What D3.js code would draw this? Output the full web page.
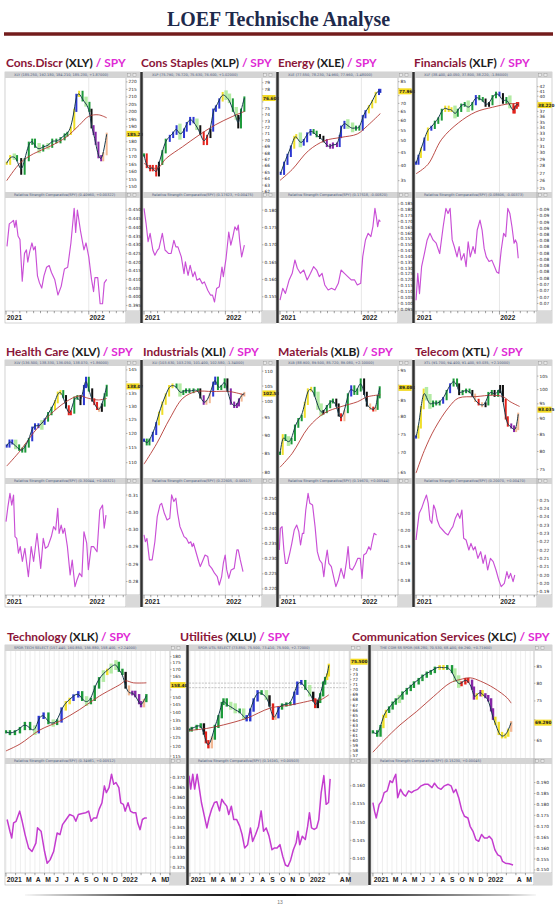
<!DOCTYPE html>
<html><head><meta charset="utf-8">
<script src="https://cdn.jsdelivr.net/npm/d3@7"></script>
<style>body{margin:0;background:#fff}svg{display:block}</style>
</head><body>
<svg id="c" width="560" height="905"></svg>
<script>
// ---------- DATA (t = months since Jan 2021, v = value, c = trend state) ----------
const names = ["Cons.Discr","Cons Staples","Energy","Financials","Health Care","Industrials","Materials","Telecom","Technology","Utilities","Communication Services"];
const tickers = ["XLY","XLP","XLE","XLF","XLV","XLI","XLB","XTL","XLK","XLU","XLC"];
const lastLabels = ["185.23","76.600","77.960","38.220","138.07","102.58","89.080","93.035","158.40","75.500","69.290"];
const priceHeaders = [
 "XLY (185.250, 192.180, 184.210, 185.230, +1.87000)",
 "XLP (75.790, 76.720, 75.630, 76.600, +1.02000)",
 "XLE (77.550, 78.230, 74.960, 77.960, -1.48000)",
 "XLF (38.400, 40.050, 37.800, 38.220, -1.86000)",
 "XLV (136.500, 138.330, 136.050, 138.070, +1.86000)",
 "XLI (103.630, 103.230, 101.400, 102.580, -1.34000)",
 "XLB (88.900, 89.500, 85.720, 89.080, +2.10000)",
 "XTL (91.700, 94.400, 91.400, 93.035, +2.10000)",
 "SPDR TECH SELECT (157.440, 160.850, 156.880, 158.400, +2.24000)",
 "SPDR UTIL SELECT (73.850, 75.500, 73.410, 75.500, +2.72000)",
 "THE COM SS SPDR (68.280, 70.530, 68.400, 69.290, +0.71900)"];
const rsHeaders = ["(0.40960, +0.00322)","(0.17623, +0.00475)","(0.17518, -0.00820)","(0.08606, -0.00373)","(0.30044, +0.00321)","(0.22605, -0.00517)","(0.19670, +0.00544)","(0.20070, +0.00470)","(0.34981, +0.00512)","(0.16191, +0.00503)","(0.15230, +0.00045)"];
const monthLabels = ["2021","","M","A","M","J","J","A","S","O","N","D","2022","","","A","M","J"];

const xlyPrice = [[0.1,165.6,'y'],[0.6,170,'y'],[1.2,170,'l'],[1.6,168,'g'],[2.2,159,'k'],[2.7,168,'g'],[3.3,179,'g'],[3.8,181,'g'],[4.2,177,'g'],[4.8,174.5,'l'],[5.4,177,'g'],[6.1,177,'l'],[6.7,181,'g'],[7.3,180,'g'],[7.9,182,'g'],[8.5,184.5,'g'],[8.9,185.6,'g'],[9.4,189,'y'],[9.9,201,'y'],[10.2,211,'b'],[10.6,213,'y'],[11.1,208,'g'],[11.6,205.6,'l'],[12.1,201,'g'],[12.4,190,'k'],[12.7,185.6,'p'],[13.0,179,'p'],[13.4,170,'p'],[13.8,168,'p'],[14.1,172,'o'],[14.6,185,'o']];
const xlyMA = [[0.1,154],[2.1,166],[4,172],[6.4,177],[8.7,183],[10.6,191],[12,197],[13.4,198],[14.6,196]];
const xlyRS = [[0.14,0.429],[0.47,0.442],[0.8,0.443],[1.08,0.444],[1.27,0.44],[1.46,0.444],[1.74,0.435],[2.02,0.433],[2.35,0.409],[2.68,0.425],[2.96,0.427],[3.15,0.42],[3.44,0.426],[3.76,0.431],[4.0,0.427],[4.24,0.429],[4.56,0.412],[4.85,0.408],[5.18,0.405],[5.5,0.412],[5.88,0.417],[6.26,0.418],[6.59,0.414],[7.06,0.41],[7.53,0.401],[8.0,0.406],[8.47,0.416],[8.94,0.417],[9.41,0.431],[9.88,0.451],[10.1,0.437],[10.35,0.45],[10.8,0.438],[11.3,0.427],[11.6,0.431],[12.0,0.423],[12.4,0.41],[12.7,0.403],[12.9,0.411],[13.3,0.411],[13.65,0.396],[14.0,0.396],[14.25,0.408],[14.6,0.41]];

const xlpPrice = [[0,67.7,'g'],[0.4,65.9,'r'],[0.9,65.4,'r'],[1.3,65.9,'r'],[1.8,64.6,'r'],[2.2,66.4,'k'],[2.7,68.2,'g'],[3.2,70,'g'],[3.8,70.6,'b'],[4.3,71.1,'b'],[4.8,72.1,'b'],[5.3,70.6,'l'],[5.9,71.6,'b'],[6.3,72.6,'b'],[6.8,73.4,'b'],[7.3,72.9,'b'],[7.8,72.1,'l'],[8.3,71.1,'k'],[8.8,69.5,'r'],[9.3,70.6,'r'],[9.8,71.6,'k'],[10.2,74.7,'b'],[10.6,75.2,'b'],[11.1,76.3,'b'],[11.6,77.3,'y'],[12.1,76.8,'l'],[12.6,76.3,'l'],[13.1,74.7,'g'],[13.6,73.7,'l'],[13.9,72.1,'k'],[14.3,74.7,'g'],[14.8,76.6,'g']];
const xlpMA = [[0,66.4],[1.9,65.6],[3.3,67.2],[5.7,69],[8.1,70.8],[10.5,72.4],[13,73.7],[14.8,74.5]];
const xlpRS = [[0,0.1805],[0.3,0.1762],[0.6,0.1709],[0.9,0.1733],[1.3,0.1685],[1.6,0.167],[2.0,0.1685],[2.2,0.1689],[2.7,0.1733],[3.1,0.1685],[3.6,0.1675],[4.0,0.1675],[4.4,0.1713],[4.7,0.1694],[5.0,0.1694],[5.5,0.1665],[5.9,0.1617],[6.1,0.1651],[6.5,0.1612],[6.8,0.1641],[7.2,0.1608],[7.5,0.1622],[7.8,0.1598],[8.2,0.1603],[8.6,0.1588],[8.9,0.1593],[9.4,0.1569],[9.8,0.1555],[10.1,0.1555],[10.4,0.1535],[10.7,0.1574],[11.1,0.1579],[11.5,0.1636],[11.7,0.1608],[12.1,0.1661],[12.5,0.1737],[12.8,0.1699],[13.1,0.1723],[13.4,0.1752],[13.7,0.1742],[13.9,0.1757],[14.1,0.1713],[14.4,0.1665],[14.8,0.1699]];

const xlePrice = [[0.1,37.4,'b'],[0.6,40.9,'b'],[1.1,43.9,'b'],[1.6,47.3,'b'],[2.1,51.6,'y'],[2.4,52.4,'y'],[3.0,48.6,'l'],[3.5,50.1,'b'],[4.0,53.2,'b'],[4.5,54.8,'b'],[4.95,54,'g'],[5.4,52.4,'g'],[5.9,51.6,'k'],[6.4,50.1,'k'],[6.9,48,'p'],[7.4,47.3,'p'],[7.8,48.6,'p'],[8.4,48,'p'],[8.8,52,'b'],[9.0,56.5,'b'],[9.5,59,'b'],[10.0,57.3,'l'],[10.7,55.6,'l'],[11.2,56.5,'g'],[11.7,55.6,'g'],[12.2,62.1,'b'],[12.6,64.9,'b'],[13.1,67.9,'y'],[13.6,71.1,'y'],[14.1,76.5,'y'],[14.6,78.6,'b'],[14.8,77.96,'b']];
const xleMA = [[0,35.1],[1.8,38.7],[4.2,45.8],[6.6,50.1],[9.0,51.6],[11.4,53.2],[12.9,57.3],[14.8,63.9]];
const xleRS = [[0,0.1027],[0.4,0.1127],[0.8,0.1084],[1.35,0.1199],[1.8,0.1256],[2.2,0.137],[2.55,0.1299],[3.0,0.1256],[3.5,0.1284],[4.0,0.1199],[4.5,0.1256],[4.95,0.1313],[5.4,0.1284],[5.8,0.1227],[6.2,0.1256],[6.6,0.1156],[7.1,0.1113],[7.6,0.1127],[8.1,0.1113],[8.6,0.117],[9.0,0.1284],[9.5,0.1256],[10.0,0.1227],[10.5,0.1199],[11.0,0.1199],[11.4,0.1156],[11.9,0.117],[12.2,0.1399],[12.6,0.1541],[13.0,0.1599],[13.4,0.157],[13.7,0.1656],[14.0,0.1813],[14.2,0.1741],[14.4,0.1656],[14.6,0.1713],[14.8,0.1699]];

const xlfPrice = [[0,28.4,'b'],[0.35,29.4,'b'],[0.7,30.5,'y'],[1.2,32.1,'b'],[1.7,33.8,'y'],[2.2,34.1,'b'],[2.7,35.0,'g'],[3.2,35.6,'g'],[3.7,37.2,'g'],[4.2,37.8,'y'],[4.7,37.2,'y'],[5.1,37.5,'y'],[5.6,36.3,'l'],[6.0,37.2,'g'],[6.5,38.2,'g'],[7.0,38.5,'g'],[7.5,37.5,'l'],[8.1,38.5,'g'],[8.6,39.9,'b'],[9.1,39.5,'g'],[9.6,39.2,'g'],[10.0,38.2,'k'],[10.5,38.5,'k'],[11.0,39.9,'g'],[11.5,40.6,'g'],[12.0,40.3,'b'],[12.5,38.8,'k'],[13.0,39.5,'g'],[13.5,38.2,'l'],[14.0,36.9,'r'],[14.2,37.8,'r'],[14.5,38.5,'r'],[14.7,38.22,'r']];
const xlfMA = [[0,26.9],[1.7,28.2],[3.7,32.1],[6.1,34.9],[8.6,36.9],[11.0,37.8],[13.5,38.5],[14.7,38.5]];
const xlfRS = [[0,0.0707],[0.25,0.0764],[0.5,0.0721],[0.8,0.0778],[1.2,0.0806],[1.6,0.0835],[2.0,0.0849],[2.45,0.0835],[2.9,0.0828],[3.4,0.0806],[3.9,0.0863],[4.3,0.0902],[4.6,0.0891],[4.9,0.0902],[5.2,0.0835],[5.5,0.0821],[5.9,0.0799],[6.2,0.0821],[6.5,0.0792],[6.9,0.0806],[7.2,0.0778],[7.5,0.0831],[7.8,0.0799],[8.2,0.0821],[8.5,0.0806],[8.8,0.0856],[9.2,0.0877],[9.5,0.0856],[9.8,0.0817],[10.1,0.0799],[10.5,0.0789],[10.9,0.0792],[11.3,0.0778],[11.6,0.0767],[11.9,0.0764],[12.25,0.0813],[12.6,0.0849],[12.9,0.0842],[13.2,0.0902],[13.5,0.0891],[13.8,0.0863],[14.1,0.0828],[14.3,0.0835],[14.5,0.0828],[14.7,0.0796]];

const xlvPrice = [[0.1,115.6,'b'],[0.5,117.3,'b'],[0.9,116.7,'b'],[1.4,115.6,'l'],[1.9,114.5,'g'],[2.35,113.9,'g'],[2.8,115.6,'g'],[3.3,117.8,'g'],[3.8,121.9,'b'],[4.2,123.1,'b'],[4.7,122.5,'b'],[5.2,123.7,'l'],[5.6,124.9,'b'],[6.1,127.3,'g'],[6.6,129.3,'g'],[7.1,131.9,'y'],[7.5,135.3,'y'],[7.9,135.9,'y'],[8.3,133.9,'g'],[8.7,129.9,'k'],[9.1,127.3,'r'],[9.4,127.9,'r'],[9.9,133.3,'g'],[10.35,133.9,'g'],[10.8,131.2,'k'],[11.3,138.0,'b'],[11.6,141.4,'b'],[12.0,136.6,'g'],[12.5,132.6,'k'],[12.8,131.2,'r'],[13.2,129.3,'r'],[13.5,128.6,'o'],[13.9,130.6,'k'],[14.3,134.6,'g'],[14.6,138.07,'g']];
const xlvMA = [[0.1,108.9],[2.1,114.1],[4,120.3],[6.35,126.8],[8.7,131.9],[10.6,134.2],[12,133.2],[13.4,132.6],[14.6,133.2]];
const xlvRS = [[0,0.3023],[0.27,0.3066],[0.57,0.3105],[0.83,0.3071],[1.09,0.31],[1.3,0.298],[1.55,0.2975],[1.8,0.2932],[2.06,0.2951],[2.37,0.2908],[2.73,0.2946],[3.24,0.2864],[3.65,0.2951],[4.0,0.2908],[4.5,0.2989],[5.03,0.2888],[5.4,0.2975],[5.7,0.2946],[6.06,0.2951],[6.57,0.298],[6.9,0.3009],[7.2,0.2999],[7.5,0.3062],[7.7,0.2989],[8.0,0.3013],[8.26,0.2989],[8.5,0.3004],[8.9,0.2951],[9.3,0.2869],[9.6,0.2912],[10.0,0.2835],[10.3,0.2855],[10.66,0.2874],[11.0,0.2864],[11.3,0.2994],[11.7,0.2961],[11.94,0.2884],[12.36,0.2951],[12.7,0.2951],[13.2,0.2936],[13.6,0.3057],[14.0,0.3071],[14.24,0.3004],[14.5,0.3042]];

const xliPrice = [[0,88.6,'b'],[0.4,87.6,'g'],[0.8,88.6,'g'],[1.3,90.5,'b'],[1.8,93.3,'b'],[2.2,96.4,'y'],[2.7,99.5,'y'],[3.2,102.1,'y'],[3.7,104.8,'y'],[4.2,105.3,'y'],[4.8,104.8,'g'],[5.3,102.6,'l'],[5.8,103.2,'g'],[6.2,103.7,'g'],[6.7,103.2,'g'],[7.3,103.7,'g'],[7.95,103.7,'g'],[8.3,101.5,'k'],[8.8,99.5,'p'],[9.2,100.0,'o'],[9.7,102.1,'o'],[10.2,105.9,'b'],[10.5,107.6,'b'],[10.9,104.2,'g'],[11.4,104.8,'g'],[11.9,107.0,'g'],[12.3,103.7,'k'],[12.8,99.5,'p'],[13.3,98.5,'p'],[13.7,99.0,'p'],[14.0,100.5,'p'],[14.4,102.1,'o'],[14.8,102.58,'o']];
const xliMA = [[0,82.2],[1.85,87.6],[3.8,94.8],[5.75,101.1],[7.7,103.2],[10.1,103.2],[12.6,103.2],[14.8,102.1]];
const xliRS = [[0,0.2379],[0.2,0.2356],[0.43,0.2367],[0.8,0.2296],[1.2,0.2296],[1.6,0.2356],[1.95,0.2439],[2.36,0.2478],[2.6,0.2483],[3.0,0.245],[3.4,0.2428],[3.8,0.2434],[4.07,0.2511],[4.4,0.2489],[4.7,0.25],[4.96,0.245],[5.3,0.2406],[5.6,0.239],[5.9,0.2373],[6.26,0.2367],[6.6,0.2351],[6.9,0.2356],[7.1,0.234],[7.3,0.2351],[7.65,0.2323],[8.07,0.229],[8.3,0.2274],[8.6,0.229],[9.0,0.2312],[9.4,0.2307],[9.6,0.2279],[10.0,0.2268],[10.4,0.2252],[10.8,0.2241],[11.1,0.2213],[11.45,0.2241],[11.7,0.2285],[11.97,0.2312],[12.2,0.2263],[12.5,0.2235],[12.85,0.2263],[13.3,0.2268],[13.7,0.2329],[13.9,0.2329],[14.2,0.2296],[14.6,0.2257]];

const xlbPrice = [[0,69.9,'g'],[0.4,74.6,'y'],[0.8,73.6,'g'],[1.25,72.7,'l'],[1.7,73.6,'g'],[2.2,77.3,'g'],[2.7,79.2,'g'],[3.2,80.2,'g'],[3.65,84.1,'y'],[4.1,88.4,'y'],[4.6,88.9,'y'],[5.1,86.8,'g'],[5.6,83.1,'l'],[6.06,81.2,'l'],[6.4,81.6,'k'],[6.9,83.1,'g'],[7.4,84.6,'g'],[7.8,85.1,'g'],[8.3,83.6,'k'],[8.65,80.6,'k'],[9.0,79.2,'r'],[9.5,81.6,'o'],[10.0,86.8,'g'],[10.5,89.4,'b'],[10.96,87.3,'g'],[11.4,88.4,'g'],[11.9,91.7,'g'],[12.4,87.3,'k'],[12.8,83.6,'k'],[13.3,82.6,'o'],[13.75,82.1,'r'],[14.1,82.6,'o'],[14.4,86.2,'g'],[14.7,89.08,'g']];
const xlbMA = [[0,66.4],[1.8,69.9],[4.2,77.0],[6.6,81.2],[9.0,83.1],[11.4,84.6],[12.9,86.2],[14.8,86.8]];
const xlbRS = [[-0.1,0.189],[0.05,0.1955],[0.3,0.196],[0.57,0.189],[0.8,0.185],[1.07,0.185],[1.43,0.188],[1.74,0.191],[2.1,0.195],[2.46,0.1965],[2.77,0.1945],[3.03,0.1905],[3.3,0.194],[3.5,0.194],[3.8,0.201],[4.14,0.206],[4.4,0.203],[4.8,0.2025],[5.17,0.196],[5.5,0.1885],[5.84,0.186],[6.2,0.185],[6.46,0.181],[6.7,0.1855],[6.96,0.189],[7.2,0.185],[7.57,0.184],[7.9,0.181],[8.24,0.178],[8.6,0.18],[9.0,0.1835],[9.43,0.1805],[9.8,0.1855],[10.04,0.19],[10.3,0.1835],[10.66,0.183],[11.06,0.1845],[11.47,0.1865],[11.83,0.1865],[12.1,0.1805],[12.34,0.1875],[12.7,0.188],[13.1,0.19],[13.36,0.189],[13.6,0.1915],[13.87,0.194],[14.23,0.1935]];

const xtlPrice = [[0,84.3,'b'],[0.35,87.4,'y'],[0.7,93.7,'y'],[1.1,99.8,'y'],[1.5,97.3,'l'],[2.0,94.4,'l'],[2.45,95.6,'g'],[2.9,95.0,'g'],[3.4,95.6,'g'],[3.9,96.8,'b'],[4.4,99.3,'g'],[4.9,101.7,'b'],[5.4,103.5,'g'],[5.9,101.7,'g'],[6.2,98.6,'k'],[6.7,99.3,'g'],[7.2,99.8,'g'],[7.7,99.3,'g'],[8.1,98.0,'k'],[8.5,96.2,'o'],[9.0,95.0,'r'],[9.5,94.4,'o'],[10.0,95.0,'k'],[10.4,98.6,'g'],[10.9,99.3,'g'],[11.3,98.0,'k'],[11.8,99.3,'g'],[12.1,101.1,'k'],[12.5,96.2,'k'],[12.9,90.3,'r'],[13.2,88.0,'r'],[13.7,87.4,'p'],[14.1,86.3,'p'],[14.4,86.9,'o'],[14.7,91.5,'o']];
const xtlMA = [[0,74.0],[1.2,80.3],[2.7,86.9],[4.7,93.8],[6.1,97.0],[8.6,97.5],[11.0,98.0],[12.5,97.5],[13.5,95.8],[14.9,94.1]];
const xtlRS = [[0,0.226],[0.1,0.23],[0.45,0.242],[0.8,0.245],[1.13,0.249],[1.5,0.253],[1.75,0.248],[2.0,0.238],[2.27,0.236],[2.53,0.247],[2.8,0.244],[3.05,0.238],[3.4,0.234],[3.83,0.232],[4.25,0.23],[4.6,0.229],[4.97,0.232],[5.3,0.234],[5.65,0.239],[6.0,0.242],[6.3,0.239],[6.6,0.244],[6.85,0.227],[7.2,0.226],[7.6,0.22],[7.9,0.224],[8.25,0.22],[8.5,0.222],[8.9,0.215],[9.3,0.219],[9.65,0.212],[9.96,0.217],[10.3,0.208],[10.7,0.215],[11.1,0.213],[11.5,0.208],[11.9,0.202],[12.25,0.198],[12.7,0.2],[13.07,0.207],[13.33,0.203],[13.6,0.206],[13.96,0.201],[14.2,0.205]];

const xlkPrice = [[0,128.3,'g'],[0.41,127.3,'g'],[0.93,128.3,'g'],[1.45,130.2,'g'],[1.96,133.2,'g'],[2.5,130.2,'g'],[3.0,128.3,'l'],[3.4,136.9,'b'],[3.9,139.0,'b'],[4.4,133.7,'g'],[4.9,133.2,'l'],[5.3,134.7,'g'],[5.76,142.2,'b'],[6.2,146.3,'y'],[6.6,148.5,'y'],[7.0,150.8,'b'],[7.5,153.0,'b'],[7.9,148.5,'g'],[8.35,146.3,'l'],[8.8,148.5,'g'],[9.2,157.0,'g'],[9.65,163.0,'g'],[10.1,166.9,'l'],[10.5,169.3,'y'],[10.9,172.0,'l'],[11.4,174.7,'l'],[11.7,169.3,'g'],[12.07,166.9,'g'],[12.4,157.0,'k'],[12.75,152.3,'o'],[13.1,153.3,'p'],[13.4,151.0,'p'],[13.8,146.3,'p'],[14.0,144.3,'p'],[14.3,147.7,'o'],[14.55,151.0,'g']];
const xlkMA = [[0,117.7],[1.45,121.4],[3.5,129.3],[5.6,134.7],[7.65,141.9],[9.7,150.8],[11.8,158.7],[12.4,161.4],[13.2,160],[14.55,160]];
const xlkRS = [[0.12,0.3489],[0.41,0.343],[0.6,0.3396],[0.79,0.3472],[1.05,0.348],[1.42,0.3531],[1.68,0.348],[1.98,0.3413],[2.35,0.3345],[2.7,0.3328],[3.1,0.337],[3.27,0.3447],[3.64,0.343],[4.0,0.3328],[4.27,0.3269],[4.57,0.3286],[4.94,0.3328],[5.3,0.3421],[5.6,0.3413],[5.86,0.3463],[6.24,0.3489],[6.6,0.3514],[7.0,0.3506],[7.24,0.348],[7.5,0.3514],[7.9,0.3519],[8.27,0.3523],[8.57,0.3531],[8.83,0.348],[9.1,0.3497],[9.4,0.3497],[9.65,0.354],[9.95,0.3573],[10.2,0.3658],[10.4,0.3624],[10.68,0.3649],[10.94,0.3717],[11.17,0.3666],[11.4,0.3675],[11.7,0.3649],[11.9,0.3573],[12.17,0.3565],[12.35,0.3531],[12.65,0.3573],[12.9,0.3531],[13.16,0.3523],[13.46,0.3523],[13.65,0.3472],[13.9,0.3438],[14.14,0.3489],[14.4,0.3497],[14.6,0.3497]];

const xluPrice = [[-0.1,62.1,'g'],[0.17,62.4,'g'],[0.67,62.8,'g'],[1.08,63.1,'g'],[1.4,61.5,'k'],[1.6,59.8,'r'],[1.85,58.8,'r'],[2.2,60.5,'o'],[2.5,62.8,'g'],[2.86,64.7,'g'],[3.2,67.3,'g'],[3.37,68.0,'g'],[3.7,67.0,'g'],[4.1,66.7,'l'],[4.55,66.0,'l'],[5.0,65.7,'g'],[5.4,64.7,'l'],[5.7,64.1,'b'],[6.06,66.0,'b'],[6.4,68.0,'b'],[6.8,69.6,'b'],[7.2,69.3,'g'],[7.7,68.6,'l'],[8.0,67.0,'k'],[8.35,64.4,'r'],[8.6,64.7,'o'],[8.9,66.4,'b'],[9.26,67.0,'g'],[9.7,67.2,'g'],[10.1,67.3,'g'],[10.5,69.3,'b'],[10.8,71.3,'b'],[11.2,71.6,'b'],[11.6,70.3,'g'],[12.05,69.3,'l'],[12.4,68.0,'k'],[12.6,66.7,'r'],[12.86,67.7,'k'],[13.1,69.0,'g'],[13.4,71.3,'g'],[13.6,72.2,'g'],[13.8,72.9,'y'],[13.97,74.8,'y']];
const xluMA = [[-0.1,62.0],[1.68,62.4],[3.37,63.1],[5.7,64.4],[8.08,66.4],[10.1,67.0],[11.8,67.7],[12.5,68.0],[13.1,68.0],[13.97,69.0]];
const xluResistance = [71.3, 70.4];
const xluRS = [[-0.1,0.1628],[0.07,0.1591],[0.28,0.1632],[0.47,0.1591],[0.72,0.1632],[0.9,0.16],[1.15,0.1554],[1.44,0.1517],[1.7,0.1484],[1.92,0.1512],[2.17,0.1535],[2.46,0.1554],[2.7,0.1556],[2.97,0.1531],[3.2,0.1563],[3.4,0.1554],[3.7,0.1544],[3.9,0.1521],[4.16,0.1544],[4.4,0.1507],[4.7,0.1507],[5.0,0.1489],[5.24,0.1466],[5.5,0.1429],[5.8,0.1438],[6.08,0.1484],[6.3,0.1447],[6.6,0.1466],[6.9,0.1489],[7.16,0.1531],[7.4,0.1475],[7.67,0.1484],[7.96,0.1461],[8.25,0.1424],[8.5,0.1429],[8.76,0.1429],[9.05,0.1438],[9.33,0.1406],[9.6,0.1382],[9.85,0.1378],[10.13,0.1396],[10.4,0.1424],[10.68,0.1443],[10.86,0.1475],[11.04,0.1438],[11.3,0.1461],[11.6,0.1452],[11.84,0.1489],[12.02,0.1526],[12.23,0.1484],[12.5,0.148],[12.74,0.1484],[12.96,0.1507],[13.2,0.1581],[13.47,0.1628],[13.7,0.1549],[13.94,0.1554],[14.1,0.1619]];

const xlcPrice = [[0,67.0,'g'],[0.45,66.2,'g'],[0.8,68.3,'g'],[1.1,70.9,'y'],[1.37,72.2,'y'],[1.7,73.1,'g'],[2.07,74.4,'g'],[2.4,75.3,'g'],[2.77,75.8,'l'],[3.1,77.2,'g'],[3.55,78.2,'g'],[3.97,79.1,'g'],[4.3,80.1,'g'],[4.8,81.1,'g'],[5.2,82.1,'g'],[5.65,83.0,'g'],[6.07,83.5,'g'],[6.5,84.5,'g'],[7.0,85.0,'y'],[7.4,84.5,'y'],[7.8,85.0,'g'],[8.3,83.5,'g'],[8.6,81.4,'l'],[9.0,79.6,'l'],[9.3,80.1,'r'],[9.7,81.1,'r'],[10.0,80.6,'r'],[10.4,78.6,'p'],[10.6,75.8,'p'],[10.9,76.7,'y'],[11.3,77.6,'p'],[11.5,76.7,'y'],[11.8,76.2,'p'],[12.1,75.3,'p'],[12.4,72.6,'p'],[12.6,70.4,'p'],[12.85,69.1,'y'],[13.2,66.6,'y'],[13.55,65.8,'y'],[13.9,66.2,'y'],[14.2,67.4,'y'],[14.5,69.29,'o']];
const xlcMA = [[0,62.2],[1.1,64.8],[2.84,68.7],[4.6,72.2],[6.35,76.2],[8.1,80.1],[9.15,81.1],[10.2,81.6],[11.3,80.6],[12.7,78.6],[14.1,75.8],[14.5,74.4]];
const xlcRS = [[0,0.1808],[0.17,0.1769],[0.35,0.1738],[0.66,0.18],[0.92,0.1815],[1.18,0.1854],[1.5,0.1862],[1.8,0.1908],[2.05,0.19],[2.24,0.1923],[2.4,0.1938],[2.6,0.1831],[2.9,0.1869],[3.2,0.1846],[3.44,0.1838],[3.75,0.1862],[4.05,0.1854],[4.3,0.1862],[4.7,0.1869],[5.06,0.1885],[5.44,0.1892],[5.8,0.1892],[6.2,0.1877],[6.46,0.1897],[6.8,0.1877],[7.15,0.1869],[7.5,0.1885],[7.9,0.1892],[8.2,0.1885],[8.46,0.1854],[8.7,0.1869],[9.0,0.1831],[9.3,0.1777],[9.6,0.1746],[9.97,0.1738],[10.2,0.17],[10.5,0.1677],[10.8,0.1639],[11.1,0.1631],[11.4,0.1662],[11.7,0.1646],[12.0,0.1646],[12.2,0.1654],[12.5,0.1639],[12.8,0.1592],[13.1,0.1569],[13.4,0.1562],[13.6,0.1539],[13.9,0.1531],[14.3,0.1528],[14.7,0.1523]];

// axis tick values / labels
const xlyTicks = [150,155,160,165,170,175,180,185,190,195,200,205,210,215,220];
const xlpTicks = [62,63,64,65,66,67,68,69,70,71,72,73,74,75,76,77,78,79];
const xleTicks = [35,40,45,50,55,60,65,70,75,80,85];
const xlfTicks = [25,26,27,28,29,30,31,32,33,34,35,36,37,38,39,40,41,42];
const xlvTicks = [110,115,120,125,130,135,140,145];
const xliTicks = [80,85,90,95,100,105,110];
const xlbTicks = [65,70,75,80,85,90,95];
const xtlTicks = [75,80,85,90,95,100,105];
const xlkTicks = [115,120,125,130,135,140,145,150,155,160,165,170,175,180];
const xluTicks = [57,58,59,60,61,62,63,64,65,66,67,68,69,70,71,72,73,74];
const xlcTicks = [65,70,75,80,85];

const xlyRsTicks = [0.395,0.400,0.405,0.410,0.415,0.420,0.425,0.430,0.435,0.440,0.445,0.450];
const xlpRsTicks = [0.155,0.160,0.165,0.170,0.175,0.180];
const xleRsTicks = [0.095,0.100,0.105,0.110,0.115,0.120,0.125,0.130,0.135,0.140,0.145,0.150,0.155,0.160,0.165,0.170,0.175,0.180,0.185];
const xlfRsTicks = [0.0900,0.0887,0.0873,0.0860,0.0847,0.0833,0.0820,0.0807,0.0793,0.0780,0.0767,0.0753,0.0740,0.0727,0.0713,0.0700];
const xlfRsLabels = ["0.09","0.09","0.09","0.09","0.08","0.08","0.08","0.08","0.08","0.08","0.08","0.08","0.07","0.07","0.07","0.07"];
const xlvRsTicks = [0.310,0.305,0.300,0.295,0.290,0.285];
const xlvRsLabels = ["0.31","0.30","0.30","0.29","0.29","0.28"];
const xliRsTicks = [0.220,0.225,0.230,0.235,0.240,0.245,0.250];
const xlbRsTicks = [0.200,0.195,0.190,0.185,0.180];
const xlbRsLabels = ["0.20","0.20","0.19","0.19","0.18"];
const xtlRsTicks = [0.250,0.245,0.240,0.235,0.230,0.225,0.220,0.215,0.210,0.205,0.200,0.195];
const xtlRsLabels = ["0.25","0.24","0.24","0.23","0.23","0.22","0.22","0.21","0.21","0.20","0.20","0.19"];
const xlkRsTicks = [0.325,0.330,0.335,0.340,0.345,0.350,0.355,0.360,0.365,0.370];
const xluRsTicks = [0.140,0.145,0.150,0.155,0.160];
const xlcRsTicks = [0.150,0.155,0.160,0.165,0.170,0.175,0.180,0.185,0.190];

// ---------- CONFIG ----------
const colorMap = {b:'#2c37d2', g:'#1d9a3a', l:'#a6e894', y:'#f0df2a', k:'#111111', r:'#e3221b', p:'#8526a6', o:'#f3b995'};
const rows = [
  {hdr:72, pTop:78, pBot:192, rHdr:192, rTop:198, rBot:311, axBot:323, titleY:66.5},
  {hdr:360, pTop:366, pBot:478, rHdr:478, rTop:484, rBot:595, axBot:607, titleY:355.5},
  {hdr:645, pTop:651, pBot:758, rHdr:758, rTop:764, rBot:873, axBot:885, titleY:640.5}
];
const geo = [
  {row:0,left:5,w:135,aw:14,td:[-0.15,17.4],tx:6,tw:120},
  {row:0,left:143,w:133,aw:14,td:[-0.15,17.4],tx:141,tw:131},
  {row:0,left:279,w:133,aw:14,td:[-0.15,17.4],tx:278,tw:99},
  {row:0,left:415,w:137,aw:15,td:[-0.15,17.4],tx:414,tw:116},
  {row:1,left:5,w:135,aw:14,td:[-0.15,17.4],tx:6,tw:127},
  {row:1,left:143,w:133,aw:14,td:[-0.15,17.4],tx:143,tw:116},
  {row:1,left:279,w:133,aw:14,td:[-0.15,17.4],tx:278,tw:115},
  {row:1,left:415,w:137,aw:15,td:[-0.15,17.4],tx:415,tw:108},
  {row:2,left:5,w:181,aw:16,td:[-0.1,17.0],tx:7,tw:124},
  {row:2,left:189,w:179,aw:18,td:[-0.1,16.1],tx:180,tw:110},
  {row:2,left:371,w:181,aw:18,td:[-0.2,16.9],tx:352,tw:198}
];
const seps = [[0,141.5],[0,277.5],[0,413.5],[1,141.5],[1,277.5],[1,413.5],[2,187.5],[2,369.5]];

const panels = [
 {price:xlyPrice,ma:xlyMA,rs:xlyRS,log:false,pDom:[146.4,222.6],rDom:[0.3918,0.4569],pTicks:xlyTicks,rTicks:xlyRsTicks},
 {price:xlpPrice,ma:xlpMA,rs:xlpRS,log:false,pDom:[61.92,79.73],rDom:[0.1509,0.1835],pTicks:xlpTicks,rTicks:xlpRsTicks},
 {price:xlePrice,ma:xleMA,rs:xleRS,log:true,pDom:[31.63,87.85],rDom:[0.0933,0.1901],pTicks:xleTicks,rTicks:xleRsTicks},
 {price:xlfPrice,ma:xlfMA,rs:xlfRS,log:true,pDom:[24.5,43.9],rDom:[0.0684,0.0924],pTicks:xlfTicks,rTicks:xlfRsTicks,rLabels:xlfRsLabels},
 {price:xlvPrice,ma:xlvMA,rs:xlvRS,log:true,pDom:[105.1,146.7],rDom:[0.2811,0.3132],pTicks:xlvTicks,rTicks:xlvRsTicks,rLabels:xlvRsLabels},
 {price:xliPrice,ma:xliMA,rs:xliRS,log:true,pDom:[78.7,111.8],rDom:[0.218,0.2547],pTicks:xliTicks,rTicks:xliRsTicks},
 {price:xlbPrice,ma:xlbMA,rs:xlbRS,log:true,pDom:[63.8,96.6],rDom:[0.1755,0.2088],pTicks:xlbTicks,rTicks:xlbRsTicks,rLabels:xlbRsLabels},
 {price:xtlPrice,ma:xtlMA,rs:xtlRS,log:true,pDom:[72.7,108.9],rDom:[0.193,0.2596],pTicks:xtlTicks,rTicks:xtlRsTicks,rLabels:xtlRsLabels},
 {price:xlkPrice,ma:xlkMA,rs:xlkRS,log:true,pDom:[114.0,184.7],rDom:[0.322,0.3768],pTicks:xlkTicks,rTicks:xlkRsTicks},
 {price:xluPrice,ma:xluMA,rs:xluRS,log:false,pDom:[56.6,77.6],rDom:[0.136,0.166],pTicks:xluTicks,rTicks:xluRsTicks,hlines:xluResistance},
 {price:xlcPrice,ma:xlcMA,rs:xlcRS,log:true,pDom:[60.9,90.0],rDom:[0.1486,0.1985],pTicks:xlcTicks,rTicks:xlcRsTicks}
];

// ---------- DRAW ----------
const svg = d3.select('#c');
svg.append('rect').attr('width',560).attr('height',905).attr('fill','#fff');
const defs = svg.append('defs');

svg.append('text').text('LOEF Technische Analyse')
  .attr('x',167).attr('y',26).attr('textLength',223).attr('lengthAdjust','spacingAndGlyphs')
  .style('font-family','"Liberation Serif", "DejaVu Serif", serif').style('font-weight','bold').style('font-size','21px')
  .attr('fill','#1e2a4c');
svg.append('line').attr('x1',4).attr('x2',553).attr('y1',34).attr('y2',34).attr('stroke','#731c1c').attr('stroke-width',3.6);

const tinyFont = '"DejaVu Sans", sans-serif';

panels.forEach((p, idx) => {
  const gm = geo[idx], R = rows[gm.row];
  const L = gm.left, W = gm.w, AW = gm.aw, PW = W - AW, PR = L + PW;
  const g = svg.append('g');
  const x = d3.scaleLinear().domain(gm.td).range([L, PR]);
  const yP = (p.log ? d3.scaleLog() : d3.scaleLinear()).domain(p.pDom).range([R.pBot, R.pTop]);
  const yR = d3.scaleLinear().domain(p.rDom).range([R.rBot, R.rTop]);

  // title
  const tg = svg.append('g');
  const tt = tg.append('text').style('font-family','Lato, "Open Sans", sans-serif').style('font-weight','bold').style('font-size','12px');
  tt.append('tspan').text(names[idx] + ' ').attr('fill','#8a1538');
  tt.append('tspan').text('(' + tickers[idx] + ')').attr('fill','#1b1b1b');
  tt.append('tspan').text(' / SPY').attr('fill','#e02bd5');
  const tw = tt.node().getBBox().width;
  tg.attr('transform', `translate(${gm.tx},${R.titleY}) scale(${gm.tw / tw},1)`);

  // frame
  g.append('rect').attr('x',L).attr('y',R.hdr).attr('width',W).attr('height',R.axBot-R.hdr)
    .attr('fill','#fff').attr('stroke','#b4b4b4').attr('stroke-width',0.6);

  // grid lines
  const gridT = gm.row === 2 ? d3.range(0, gm.td[1], 0.5) : [12];
  const gridCol = gm.row === 2 ? '#e2e2e2' : '#d6d6d6';
  [[R.pTop,R.pBot],[R.rTop,R.rBot]].forEach(([a,b]) => {
    g.append('g').selectAll('line').data(gridT).join('line')
      .attr('x1',d=>x(d)).attr('x2',d=>x(d)).attr('y1',a).attr('y2',b)
      .attr('stroke',gridCol).attr('stroke-width',0.6);
  });

  // header bars
  [[R.hdr, priceHeaders[idx]], [R.rHdr, 'Relative Strength Comparative(SPY) ' + rsHeaders[idx]]].forEach(([hy, txt]) => {
    g.append('rect').attr('x',L).attr('y',hy).attr('width',W).attr('height',6).attr('fill','#d4d4d4');
    g.append('text').attr('x',L+9).attr('y',hy+4.2).text(txt)
      .style('font-family',tinyFont).style('font-size','3.5px').attr('fill','#4b5b82');
    [PR+1.5, PR+7].forEach(bx => {
      g.append('rect').attr('x',bx).attr('y',hy+1.6).attr('width',3).attr('height',2.8)
        .attr('fill','#e8e8e8').attr('stroke','#8a8a8a').attr('stroke-width',0.35);
    });
  });

  // borders
  g.append('line').attr('x1',PR).attr('x2',PR).attr('y1',R.hdr+6).attr('y2',R.axBot).attr('stroke','#9c9c9c').attr('stroke-width',0.6);
  g.append('line').attr('x1',L).attr('x2',L+W).attr('y1',R.rBot).attr('y2',R.rBot).attr('stroke','#9c9c9c').attr('stroke-width',0.6);
  g.append('rect').attr('x',PR).attr('y',R.rBot).attr('width',AW).attr('height',R.axBot-R.rBot).attr('fill','#d9d9d9');

  // clips
  defs.append('clipPath').attr('id','cp'+idx).append('rect').attr('x',L).attr('y',R.pTop).attr('width',PW).attr('height',R.pBot-R.pTop);
  defs.append('clipPath').attr('id','cr'+idx).append('rect').attr('x',L).attr('y',R.rTop).attr('width',PW).attr('height',R.rBot-R.rTop);

  // price area
  const pg = g.append('g').attr('clip-path',`url(#cp${idx})`);
  if (p.hlines) {
    pg.selectAll('line.h').data(p.hlines).join('line')
      .attr('x1',L).attr('x2',PR-3).attr('y1',d=>yP(d)).attr('y2',d=>yP(d))
      .attr('stroke','#9a9a9a').attr('stroke-width',0.6).attr('stroke-dasharray','2,1.2');
  }
  const bw = gm.row === 2 ? 2.4 : 2.0;
  const barTop = (d,i) => {
    const pv = i ? p.price[i-1][1] : d[1];
    return yP(Math.max(pv, d[1])) - (d[2]==='l' ? 3.2 : 1.6);
  };
  const barBot = (d,i) => {
    const pv = i ? p.price[i-1][1] : d[1];
    return yP(Math.min(pv, d[1])) + (d[2]==='l' ? 3.2 : 1.6);
  };
  pg.append('g').selectAll('rect').data(p.price).join('rect')
    .attr('x', d => x(d[0]) - (d[2]==='l' ? 1.7 : bw/2))
    .attr('width', d => d[2]==='l' ? 3.4 : bw)
    .attr('y', barTop)
    .attr('height', (d,i) => barBot(d,i) - barTop(d,i))
    .attr('fill', d => colorMap[d[2]])
    .attr('opacity', d => d[2]==='l' ? 0.85 : 1);
  pg.append('path').datum(p.ma)
    .attr('d', d3.line().x(d=>x(d[0])).y(d=>yP(d[1])).curve(d3.curveCatmullRom))
    .attr('fill','none').attr('stroke','#b43a34').attr('stroke-width',0.9);
  pg.append('path').datum(p.price)
    .attr('d', d3.line().x(d=>x(d[0])).y(d=>yP(d[1])).curve(d3.curveBasis))
    .attr('fill','none').attr('stroke','#173a4c').attr('stroke-width',1.0);

  // RS line
  g.append('g').attr('clip-path',`url(#cr${idx})`).append('path').datum(p.rs)
    .attr('d', d3.line().x(d=>x(d[0])).y(d=>yR(d[1])))
    .attr('fill','none').attr('stroke', gm.row===2 ? '#c43ccf' : '#c94fd6')
    .attr('stroke-width', gm.row===2 ? 1.5 : 1.15).attr('stroke-linejoin','round');

  // price axis (labels hidden where the last-price marker covers them)
  const lv = +lastLabels[idx];
  const hy = yP(lv);
  const pt = p.pTicks.filter(v => v >= p.pDom[0] && v <= p.pDom[1]);
  const ptLab = pt.filter(v => Math.abs(yP(v) - hy) >= 5.2);
  const ax = g.append('g');
  ax.selectAll('line').data(pt).join('line')
    .attr('x1',PR).attr('x2',PR+1.5).attr('y1',d=>yP(d)).attr('y2',d=>yP(d)).attr('stroke','#555').attr('stroke-width',0.4);
  ax.selectAll('text').data(ptLab).join('text')
    .attr('x',PR+2.6).attr('y',d=>yP(d)+1.5).text(d=>d)
    .style('font-family',tinyFont).style('font-size','4.3px').attr('fill','#222');
  ax.append('rect').attr('x',PR+0.4).attr('y',hy-3).attr('width',AW-0.8).attr('height',6).attr('fill','#f3da22');
  ax.append('text').attr('x',PR+1).attr('y',hy+1.6).text(lastLabels[idx])
    .style('font-family',tinyFont).style('font-size','4.3px').style('font-weight','bold').attr('fill','#222');

  // RS axis
  const rt = p.rTicks.map((v,i) => [v, p.rLabels ? p.rLabels[i] : v.toFixed(3)]).filter(d => d[0] >= p.rDom[0] && d[0] <= p.rDom[1]);
  const rx = g.append('g');
  rx.selectAll('line').data(rt).join('line')
    .attr('x1',PR).attr('x2',PR+1.5).attr('y1',d=>yR(d[0])).attr('y2',d=>yR(d[0])).attr('stroke','#555').attr('stroke-width',0.4);
  rx.selectAll('text').data(rt).join('text')
    .attr('x',PR+2.6).attr('y',d=>yR(d[0])+1.5).text(d=>d[1])
    .style('font-family',tinyFont).style('font-size','4.3px').attr('fill','#222');

  // time axis
  const months = d3.range(Math.ceil(gm.td[0]), Math.floor(gm.td[1]) + 1);
  g.append('g').selectAll('line').data(months).join('line')
    .attr('x1',d=>x(d)).attr('x2',d=>x(d)).attr('y1',R.rBot).attr('y2',d=>R.rBot + (d % 12 === 0 ? 3.5 : 2.2))
    .attr('stroke','#444').attr('stroke-width',0.5);
  const labs = gm.row === 2
    ? months.map(m => [m, monthLabels[m] || '']).filter(d => d[1])
    : [[0,'2021'],[12,'2022']];
  g.append('g').selectAll('text').data(labs).join('text')
    .attr('x', d => Math.min(x(d[0]) + 0.8, PR - 4.5)).attr('y', R.rBot + 9)
    .text(d => d[1])
    .style('font-family','"Liberation Sans", Arial, sans-serif').style('font-weight','bold').style('font-size','6.8px').attr('fill','#262626');
});

// separators
seps.forEach(([r, sx]) => {
  const R = rows[r];
  svg.append('line').attr('x1',sx).attr('x2',sx).attr('y1',R.hdr).attr('y2',R.axBot)
    .attr('stroke','#303030').attr('stroke-width',2.5);
});

// footer
svg.append('path').attr('d','M20,895 Q280,893.2 540,895 Q280,896.8 20,895 Z').attr('fill','#111');
svg.append('text').attr('x',280).attr('y',903.5).attr('text-anchor','middle').text('13')
  .style('font-family','"Liberation Sans", sans-serif').style('font-size','5px').attr('fill','#777');
</script>
</body></html>
